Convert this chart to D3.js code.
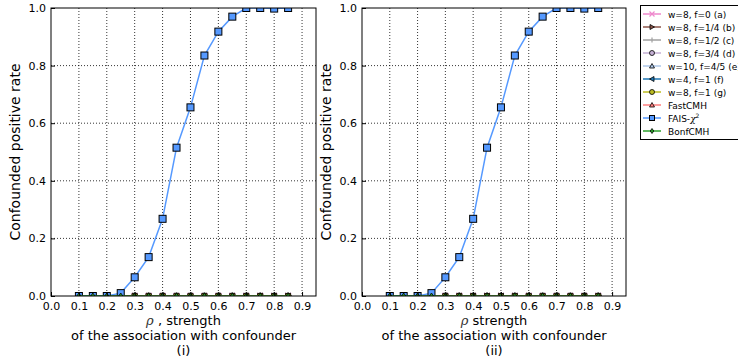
<!DOCTYPE html>
<html>
<head>
<meta charset="utf-8">
<script src="https://cdn.jsdelivr.net/npm/d3@7"></script>
<style>
  body { margin: 0; background: #fff; }
  text { font-family: "DejaVu Sans", sans-serif; }
</style>
</head>
<body>
<div id="chart"></div>
<script>
// x positions (rho)
const rho = [0.1, 0.15, 0.2, 0.25, 0.3, 0.35, 0.4, 0.45, 0.5, 0.55, 0.6, 0.65, 0.7, 0.75, 0.8, 0.85];
const zeros = rho.map(() => 0);
const faisValues = [0, 0, 0, 0.01, 0.065, 0.135, 0.268, 0.515, 0.655, 0.835, 0.918, 0.97, 1.0, 1.0, 0.998, 1.0];
const xTicks = [0, 0.1, 0.2, 0.3, 0.4, 0.5, 0.6, 0.7, 0.8, 0.9];
const yTicks = [0, 0.2, 0.4, 0.6, 0.8, 1.0];
const panelLabels = ["(i)", "(ii)"];

const seriesNames = ["w=8, f=0 (a)", "w=8, f=1/4 (b)", "w=8, f=1/2 (c)", "w=8, f=3/4 (d)",
  "w=10, f=4/5 (e)", "w=4, f=1 (f)", "w=8, f=1 (g)", "FastCMH", "FAIS-χ²", "BonfCMH"];
const seriesColors = ["#ee88cc", "#8c564b", "#a0a0a0", "#c5b0d5", "#aec7e8", "#1f77b4", "#bcbd22", "#ff7f7f", "#5599ff", "#2ca02c"];
const seriesMarkers = ["x", "tri-right", "vline", "circle", "tri-up", "tri-left", "circle", "tri-up", "square", "diamond"];
const seriesValues = [zeros, zeros, zeros, zeros, zeros, zeros, zeros, zeros, faisValues, zeros];

const W = 738, H = 362;
const svg = d3.select("#chart").append("svg").attr("width", W).attr("height", H);

function marker(g, type, x, y, color, s) {
  const h = s / 2;
  if (type === "x") {
    g.append("path").attr("d", `M${x-h},${y-h}L${x+h},${y+h}M${x-h},${y+h}L${x+h},${y-h}`)
      .attr("stroke", color).attr("stroke-width", 1.2);
  } else if (type === "vline") {
    g.append("path").attr("d", `M${x},${y-h}L${x},${y+h}`).attr("stroke", color).attr("stroke-width", 1.2);
  } else if (type === "circle") {
    g.append("circle").attr("cx", x).attr("cy", y).attr("r", h)
      .attr("fill", color).attr("stroke", "#000").attr("stroke-width", 0.8);
  } else if (type === "square") {
    g.append("rect").attr("x", x - h).attr("y", y - h).attr("width", s).attr("height", s)
      .attr("fill", color).attr("stroke", "#000").attr("stroke-width", 1);
  } else {
    let d;
    if (type === "tri-up") d = `M${x},${y-h}L${x+h},${y+h*0.8}L${x-h},${y+h*0.8}Z`;
    else if (type === "tri-right") d = `M${x+h},${y}L${x-h*0.8},${y-h}L${x-h*0.8},${y+h}Z`;
    else if (type === "tri-left") d = `M${x-h},${y}L${x+h*0.8},${y-h}L${x+h*0.8},${y+h}Z`;
    else d = `M${x},${y-h}L${x+h*0.7},${y}L${x},${y+h}L${x-h*0.7},${y}Z`;
    g.append("path").attr("d", d).attr("fill", color).attr("stroke", "#000").attr("stroke-width", 0.8);
  }
}

const panels = [{ left: 51, right: 316 }, { left: 362, right: 626 }];
const plotTop = 8, plotBottom = 296;

panels.forEach((p, pi) => {
  const x = d3.scaleLinear().domain([0, 0.95]).range([p.left, p.right]);
  const y = d3.scaleLinear().domain([0, 1]).range([plotBottom, plotTop]);
  const g = svg.append("g");
  const clipId = "clip" + pi;
  svg.append("clipPath").attr("id", clipId).append("rect")
    .attr("x", p.left).attr("y", plotTop).attr("width", p.right - p.left).attr("height", plotBottom - plotTop);

  // grid
  g.append("g").selectAll("line").data(xTicks.slice(1)).join("line")
    .attr("x1", d => x(d)).attr("x2", d => x(d)).attr("y1", plotTop).attr("y2", plotBottom)
    .attr("stroke", "#000").attr("stroke-width", 0.8).attr("stroke-dasharray", "1,2");
  g.append("g").selectAll("line").data(yTicks.slice(1, -1)).join("line")
    .attr("x1", p.left).attr("x2", p.right).attr("y1", d => y(d)).attr("y2", d => y(d))
    .attr("stroke", "#000").attr("stroke-width", 0.8).attr("stroke-dasharray", "1,2");

  // series
  const plot = g.append("g").attr("clip-path", `url(#${clipId})`);
  const line = d3.line().x((d, i) => x(rho[i])).y(d => y(d));
  seriesValues.forEach((vals, si) => {
    plot.append("path").datum(vals).attr("d", line).attr("fill", "none")
      .attr("stroke", seriesColors[si]).attr("stroke-width", 1.5);
    const mg = plot.append("g");
    vals.forEach((v, i) => marker(mg, seriesMarkers[si], x(rho[i]), y(v), seriesColors[si], si === 8 ? 7 : 6));
  });

  // axes
  const xa = g.append("g").attr("transform", `translate(0,${plotBottom})`)
    .call(d3.axisBottom(x).tickValues(xTicks).tickFormat(d3.format(".1f")).tickSize(-4).tickPadding(6));
  const ya = g.append("g").attr("transform", `translate(${p.left},0)`)
    .call(d3.axisLeft(y).tickValues(yTicks).tickFormat(d3.format(".1f")).tickSize(-4).tickPadding(5));
  [xa, ya].forEach(a => {
    a.select(".domain").remove();
    a.selectAll("text").attr("font-size", 11).attr("fill", "#000");
    a.selectAll("line").attr("stroke", "#000");
  });
  g.append("rect").attr("x", p.left).attr("y", plotTop).attr("width", p.right - p.left)
    .attr("height", plotBottom - plotTop).attr("fill", "none").attr("stroke", "#000").attr("stroke-width", 1);

  // labels
  const cx = (p.left + p.right) / 2;
  const lbl = g.append("text").attr("x", cx).attr("y", 325).attr("text-anchor", "middle").attr("font-size", 13);
  lbl.append("tspan").attr("font-style", "italic").attr("font-family", "DejaVu Serif").attr("fill", "#333").text("ρ");
  lbl.append("tspan").text(pi === 0 ? " , strength" : "   strength");
  g.append("text").attr("x", cx).attr("y", 340).attr("text-anchor", "middle").attr("font-size", 13)
    .text("of the association with confounder");
  g.append("text").attr("x", cx).attr("y", 355).attr("text-anchor", "middle").attr("font-size", 13)
    .text(panelLabels[pi]);
  g.append("text").attr("transform", `translate(${p.left - 31},${(plotTop + plotBottom) / 2}) rotate(-90)`)
    .attr("text-anchor", "middle").attr("font-size", 14).text("Confounded positive rate");
});

// legend
const lg = svg.append("g");
lg.append("rect").attr("x", 640.5).attr("y", 5.5).attr("width", 110).attr("height", 134)
  .attr("fill", "#fff").attr("stroke", "#000").attr("stroke-width", 1);
seriesNames.forEach((name, i) => {
  const yy = 14 + i * 13;
  lg.append("line").attr("x1", 643).attr("x2", 661).attr("y1", yy).attr("y2", yy)
    .attr("stroke", seriesColors[i]).attr("stroke-width", 1.5);
  marker(lg, seriesMarkers[i], 652, yy, seriesColors[i], 5);
  const t = lg.append("text").attr("x", 668).attr("y", yy + 3.5).attr("font-size", 9);
  if (name === "FAIS-χ²") {
    t.append("tspan").text("FAIS-");
    t.append("tspan").attr("font-family", "DejaVu Serif").attr("font-style", "italic").text("χ");
    t.append("tspan").attr("font-size", 6).attr("dy", -4).text("2");
  } else t.text(name);
});
</script>
</body>
</html>
